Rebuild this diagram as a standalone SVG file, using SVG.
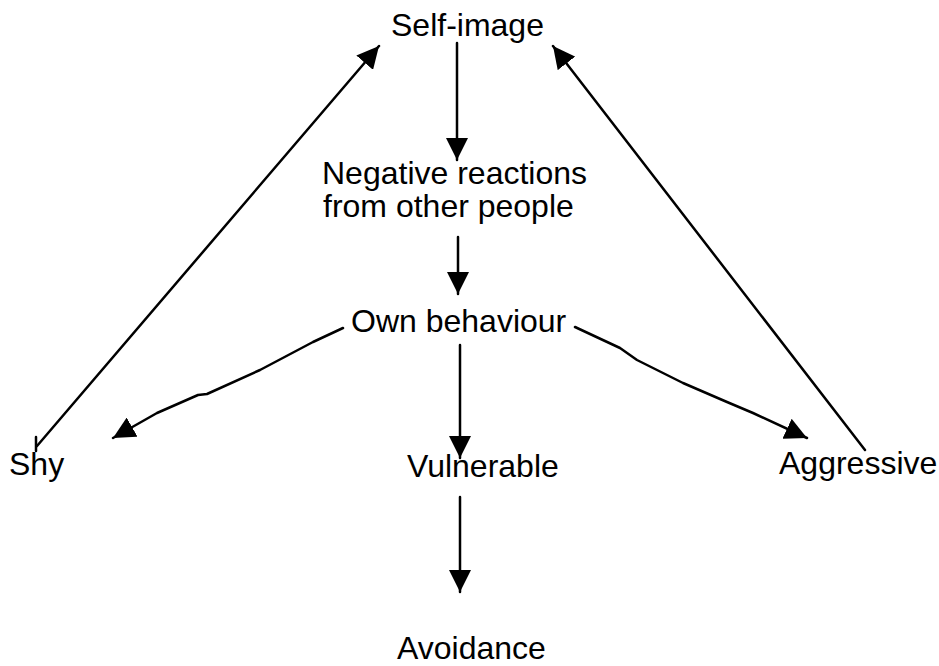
<svg xmlns="http://www.w3.org/2000/svg" width="939" height="666" viewBox="0 0 939 666">
<style>
  text { font-family: "Liberation Sans", Arial, sans-serif; font-size: 32px; fill: #000; }
  .c { fill: none; stroke: #000; stroke-width: 2.5; stroke-linejoin: round; stroke-linecap: round; }
</style>
<defs>
  <marker id="ah" viewBox="0 0 20 20" markerWidth="22" markerHeight="22" refX="20" refY="10" markerUnits="userSpaceOnUse" orient="auto">
    <path d="M0,0 L20,10 L0,20 z" fill="#000"/>
  </marker>
</defs>
<rect width="939" height="666" fill="#fff"/>
<g id="connectors">
  <path class="c" d="M457,43 L457,160" marker-end="url(#ah)"/>
  <path class="c" d="M458,237 L458,294" marker-end="url(#ah)"/>
  <path class="c" d="M460,345 L460,458" marker-end="url(#ah)"/>
  <path class="c" d="M460,497 L460,592" marker-end="url(#ah)"/>
  <path class="c" d="M343,328 L313,342 L260,370 L207,394 L198,395 L157,413 L113,438" marker-end="url(#ah)"/>
  <path class="c" d="M575,327 L620,348 L637,360 L683,383 L727,402 L753,413 L807,438" marker-end="url(#ah)"/>
  <path class="c" d="M36,437 L36,451"/>
  <path class="c" d="M37,446 L379,46" marker-end="url(#ah)"/>
  <path class="c" d="M865,450 L553,46" marker-end="url(#ah)"/>
</g>
<g id="self-image"><text x="391" y="36">Self-image</text></g>
<g id="negative-reactions"><text x="322" y="184">Negative reactions</text><text x="323" y="217">from other people</text></g>
<g id="own-behaviour"><text x="351" y="332">Own behaviour</text></g>
<g id="shy"><text x="9" y="475">Shy</text></g>
<g id="vulnerable"><text x="407" y="477">Vulnerable</text></g>
<g id="aggressive"><text x="779" y="474">Aggressive</text></g>
<g id="avoidance"><text x="397" y="659">Avoidance</text></g>
</svg>
